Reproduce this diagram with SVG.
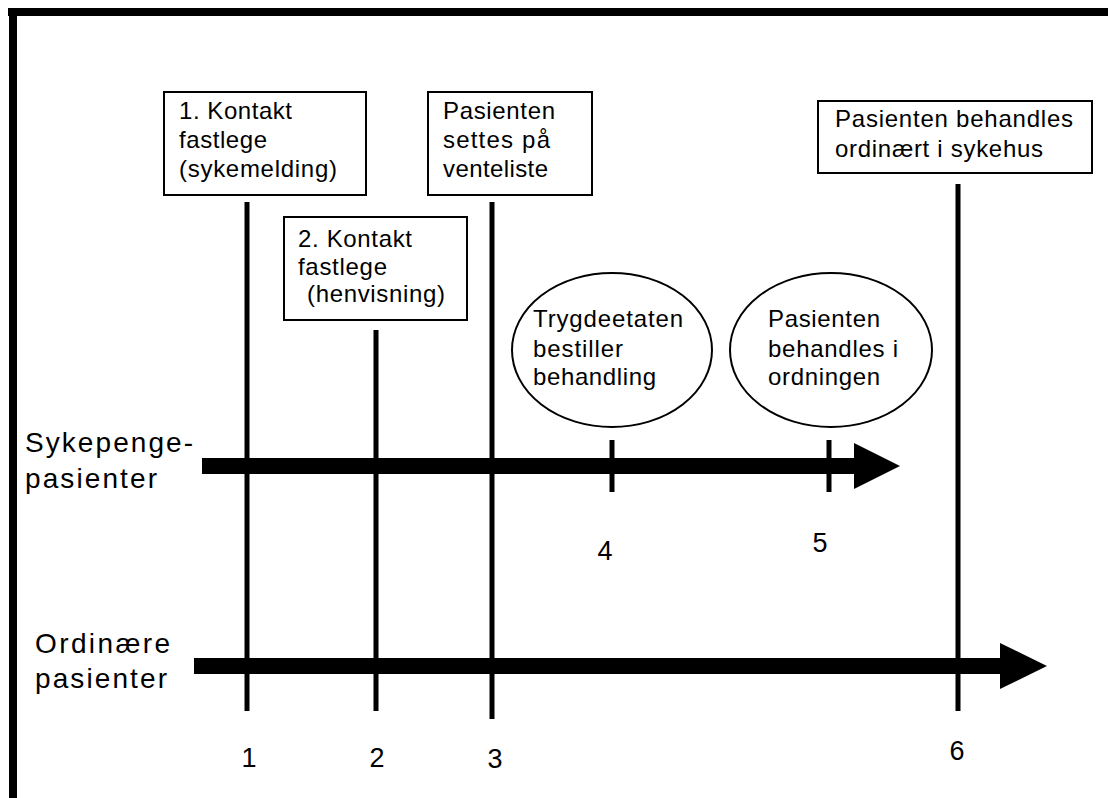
<svg xmlns="http://www.w3.org/2000/svg" width="1108" height="798" viewBox="0 0 1108 798">
<style>
text{font-family:"Liberation Sans",Arial,sans-serif;fill:#000}
.bt{font-size:24px}
.lb{font-size:28px}
.nm{font-size:27px}
.box{fill:#fff;stroke:#000;stroke-width:2}
.ell{fill:#fff;stroke:#000;stroke-width:2}
.vl{stroke:#000;stroke-width:5;fill:none}
.ar{fill:#000;stroke:none}
</style>
<rect width="1108" height="798" fill="#fff"/>
<g id="frame">
<rect x="8" y="8" width="1100" height="8" fill="#000"/>
<rect x="9" y="8" width="8" height="790" fill="#000"/>
</g>
<g id="connectors">
<line class="vl" x1="247" y1="202" x2="247" y2="711"/>
<line class="vl" x1="376" y1="330" x2="376" y2="711"/>
<line class="vl" x1="492" y1="202" x2="492" y2="719"/>
<line class="vl" x1="958" y1="184" x2="958" y2="711"/>
<polygon class="ar" points="202,458 854,458 854,443 900,466 854,489 854,474 202,474"/>
<polygon class="ar" points="194,658 1000,658 1000,643 1047,666 1000,689 1000,674 194,674"/>
<line class="vl" x1="612" y1="440" x2="612" y2="492"/>
<line class="vl" x1="829" y1="440" x2="829" y2="492"/>
</g>
<g id="box1">
<rect class="box" x="164" y="92" width="202" height="103"/>
<text class="bt" x="179" y="119" textLength="113" lengthAdjust="spacing">1. Kontakt</text>
<text class="bt" x="179" y="148" textLength="88" lengthAdjust="spacing">fastlege</text>
<text class="bt" x="179" y="177" textLength="158" lengthAdjust="spacing">(sykemelding)</text>
</g>
<g id="box2">
<rect class="box" x="284" y="217" width="183" height="103"/>
<text class="bt" x="298" y="247" textLength="114" lengthAdjust="spacing">2. Kontakt</text>
<text class="bt" x="298" y="275" textLength="89" lengthAdjust="spacing">fastlege</text>
<text class="bt" x="307" y="302" textLength="138" lengthAdjust="spacing">(henvisning)</text>
</g>
<g id="box3">
<rect class="box" x="428" y="92" width="164" height="103"/>
<text class="bt" x="443" y="119" textLength="112" lengthAdjust="spacing">Pasienten</text>
<text class="bt" x="443" y="148" textLength="107" lengthAdjust="spacing">settes på</text>
<text class="bt" x="443" y="177" textLength="105" lengthAdjust="spacing">venteliste</text>
</g>
<g id="box6">
<rect class="box" x="818" y="101" width="274" height="72"/>
<text class="bt" x="835" y="127" textLength="238" lengthAdjust="spacing">Pasienten behandles</text>
<text class="bt" x="835" y="157" textLength="208" lengthAdjust="spacing">ordinært i sykehus</text>
</g>
<g id="ellipse4">
<ellipse class="ell" cx="612" cy="350" rx="100" ry="77"/>
<text class="bt" x="533" y="327" textLength="150" lengthAdjust="spacing">Trygdeetaten</text>
<text class="bt" x="533" y="357" textLength="90" lengthAdjust="spacing">bestiller</text>
<text class="bt" x="533" y="385" textLength="123" lengthAdjust="spacing">behandling</text>
</g>
<g id="ellipse5">
<ellipse class="ell" cx="831" cy="350" rx="101" ry="77"/>
<text class="bt" x="768" y="327" textLength="112" lengthAdjust="spacing">Pasienten</text>
<text class="bt" x="768" y="357" textLength="130" lengthAdjust="spacing">behandles i</text>
<text class="bt" x="768" y="385" textLength="112" lengthAdjust="spacing">ordningen</text>
</g>
<g id="label-sykepenge">
<text class="lb" x="25" y="452" textLength="168" lengthAdjust="spacing">Sykepenge-</text>
<text class="lb" x="25" y="488" textLength="132" lengthAdjust="spacing">pasienter</text>
</g>
<g id="label-ordinaere">
<text class="lb" x="35" y="653" textLength="135" lengthAdjust="spacing">Ordinære</text>
<text class="lb" x="35" y="688" textLength="132" lengthAdjust="spacing">pasienter</text>
</g>
<g id="numbers">
<text class="nm" x="249" y="767" text-anchor="middle">1</text>
<text class="nm" x="377" y="767" text-anchor="middle">2</text>
<text class="nm" x="495" y="768" text-anchor="middle">3</text>
<text class="nm" x="605" y="560" text-anchor="middle">4</text>
<text class="nm" x="820" y="552" text-anchor="middle">5</text>
<text class="nm" x="957" y="760" text-anchor="middle">6</text>
</g>
</svg>
